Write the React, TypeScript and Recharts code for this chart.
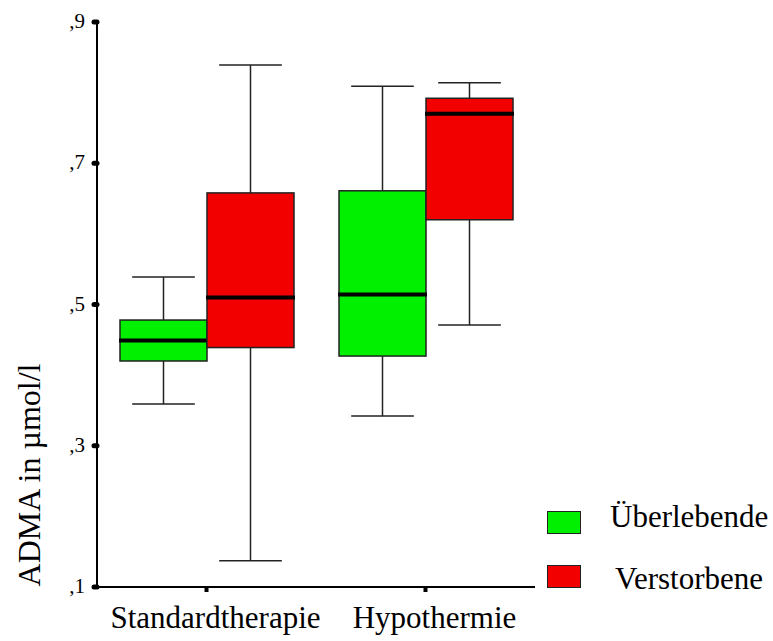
import { BarChart, Bar, XAxis, YAxis } from "recharts";

const categories = ["Standardtherapie", "Hypothermie"];

// Überlebende (green)
const survMin = [0.359, 0.342];
const survQ1 = [0.42, 0.427];
const survMedian = [0.449, 0.514];
const survQ3 = [0.478, 0.661];
const survMax = [0.539, 0.809];

// Verstorbene (red)
const deadMin = [0.137, 0.471];
const deadQ1 = [0.439, 0.62];
const deadMedian = [0.51, 0.77];
const deadQ3 = [0.658, 0.792];
const deadMax = [0.839, 0.814];

const yTicks = [0.1, 0.3, 0.5, 0.7, 0.9];

const GREEN = "#00f000";
const RED = "#f20000";
const FONT = "'Liberation Serif', 'Times New Roman', serif";

const legendItems = [
  { name: "Überlebende", color: GREEN },
  { name: "Verstorbene", color: RED },
];

type Stats = { min: number; q1: number; median: number; q3: number; max: number };

const data = categories.map((name, i) => ({
  name,
  surv: [survMin[i], survMax[i]],
  dead: [deadMin[i], deadMax[i]],
  survStats: { min: survMin[i], q1: survQ1[i], median: survMedian[i], q3: survQ3[i], max: survMax[i] },
  deadStats: { min: deadMin[i], q1: deadQ1[i], median: deadMedian[i], q3: deadQ3[i], max: deadMax[i] },
}));

function makeBox(key: "survStats" | "deadStats") {
  return function BoxShape(props: any) {
    const { x, y, width, height, payload, fill } = props;
    const s: Stats = payload[key];
    const top = Math.min(y, y + height);
    const h = Math.abs(height);
    // interpolate inside the whisker range that the y scale already mapped
    const toY = (v: number) => top + ((s.max - v) / (s.max - s.min)) * h;
    const cx = x + width / 2;
    const capHalf = width * 0.36;
    const yQ3 = toY(s.q3);
    const yQ1 = toY(s.q1);
    const yMed = toY(s.median);
    const yMax = toY(s.max);
    const yMin = toY(s.min);
    return (
      <g>
        <line x1={cx} x2={cx} y1={yMax} y2={yQ3} stroke="#222" strokeWidth={1.5} />
        <line x1={cx} x2={cx} y1={yQ1} y2={yMin} stroke="#222" strokeWidth={1.5} />
        <line x1={cx - capHalf} x2={cx + capHalf} y1={yMax} y2={yMax} stroke="#222" strokeWidth={1.5} />
        <line x1={cx - capHalf} x2={cx + capHalf} y1={yMin} y2={yMin} stroke="#222" strokeWidth={1.5} />
        <rect x={x} y={yQ3} width={width} height={yQ1 - yQ3} fill={fill} stroke="#222" strokeWidth={1.5} />
        <line x1={x - 1} x2={x + width + 1} y1={yMed} y2={yMed} stroke="#000" strokeWidth={4} />
      </g>
    );
  };
}

function XTick(props: any) {
  const { x, y, payload } = props;
  return (
    <text x={x + 9} y={y + 34} textAnchor="middle" style={{ fontFamily: FONT, fontSize: 31 }} fill="#000">
      {payload.value}
    </text>
  );
}

function YTick(props: any) {
  const { x, y, payload } = props;
  return (
    <text x={x} y={y} dy={6} textAnchor="end" style={{ fontFamily: FONT, fontSize: 21 }} fill="#000">
      {"," + Math.round(payload.value * 10)}
    </text>
  );
}

function YLabel(props: any) {
  const vb = props.viewBox || { x: 0 };
  const cx = vb.x + 29;
  const cy = 475;
  return (
    <text
      x={cx}
      y={cy}
      transform={`rotate(-90, ${cx}, ${cy})`}
      textAnchor="middle"
      dominantBaseline="central"
      style={{ fontFamily: FONT, fontSize: 32 }}
      fill="#000"
    >
      ADMA in µmol/l
    </text>
  );
}

export default function App() {
  return (
    <div style={{ position: "absolute", left: 0, top: 0, width: 773, height: 641, background: "#fff" }}>
      <BarChart
        width={773}
        height={641}
        data={data}
        margin={{ top: 22, right: 238, bottom: 4, left: 0 }}
        barSize={87}
        barGap={0}
      >
        <XAxis
          dataKey="name"
          height={50}
          axisLine={{ stroke: "#000", strokeWidth: 2 }}
          tickLine={{ stroke: "#000", strokeWidth: 4 }}
          tickSize={5}
          tick={<XTick />}
          interval={0}
        />
        <YAxis
          type="number"
          domain={[0.1, 0.9]}
          ticks={yTicks}
          width={97}
          allowDataOverflow
          axisLine={{ stroke: "#000", strokeWidth: 2 }}
          tickLine={{ stroke: "#000", strokeWidth: 5, strokeLinecap: "round" }}
          tickSize={3}
          tickMargin={9}
          tick={<YTick />}
          label={<YLabel />}
        />
        <Bar dataKey="surv" name="Überlebende" fill={GREEN} shape={makeBox("survStats")} isAnimationActive={false} />
        <Bar dataKey="dead" name="Verstorbene" fill={RED} shape={makeBox("deadStats")} isAnimationActive={false} />
      </BarChart>
      {legendItems.map((it, i) => (
        <div key={it.name} style={{ position: "absolute", left: 547, top: 511 + i * 54, fontFamily: FONT }}>
          <div
            style={{
              position: "absolute",
              left: 0,
              top: 0,
              width: 32,
              height: 21,
              background: it.color,
              border: "1px solid #222",
            }}
          />
          <div
            style={{
              position: "absolute",
              left: i === 0 ? 63 : 68,
              top: i === 0 ? -10 : -2,
              fontSize: 31,
              lineHeight: "31px",
              whiteSpace: "nowrap",
              color: "#000",
            }}
          >
            {it.name}
          </div>
        </div>
      ))}
    </div>
  );
}
